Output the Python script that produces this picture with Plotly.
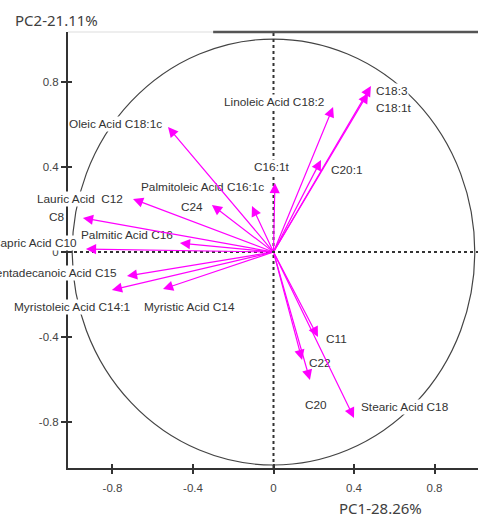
import plotly.graph_objects as go

# ---- data (loadings) ----
variables = ["Oleic Acid C18:1c", "Linoleic Acid C18:2", "C18:3", "C18:1t", "C20:1",
             "C16:1t", "Palmitoleic Acid C16:1c", "C24", "Lauric Acid\u00a0 C12", "C8",
             "Palmitic Acid C16", "Capric Acid C10", "Pentadecanoic Acid C15",
             "Myristoleic Acid C14:1", "Myristic Acid C14", "C11", "C22", "C20",
             "Stearic Acid C18"]
pc1 = [-0.524, 0.296, 0.484, 0.470, 0.236, 0.007, -0.107, -0.306, -0.698, -0.947,
       -0.465, -0.932, -0.728, -0.803, -0.549, 0.221, 0.142, 0.181, 0.400]
pc2 = [0.587, 0.681, 0.779, 0.746, 0.432, 0.324, 0.216, 0.221, 0.249, 0.160,
       0.042, 0.014, -0.113, -0.178, -0.174, -0.399, -0.507, -0.601, -0.779]

tick_vals = [-0.8, -0.4, 0, 0.4, 0.8]
tick_text = ["-0.8", "-0.4", "0", "0.4", "0.8"]
x_title = "PC1-28.26%"
y_title = "PC2-21.11%"

# ---- layout: label placement (data units) ----
label_x = [-1.021, -0.251, 0.504, 0.504, 0.281, -0.102, -0.663, -0.465, -1.180, -1.120,
           -0.961, -0.971, -0.773, -1.294, -0.648, 0.256, 0.171, 0.152, 0.430]
label_y = [0.601, 0.704, 0.756, 0.676, 0.385, 0.399, 0.305, 0.211, 0.249, 0.164,
           0.080, 0.042, -0.099, -0.258, -0.258, -0.408, -0.521, -0.718, -0.728]
label_anchor = ["left"] * 11 + ["right", "right"] + ["left"] * 6

XR = [-1.021, 1.016]
YR = [-1.014, 1.033]

def xp(v):
    return (v - XR[0]) / (XR[1] - XR[0])

def yp(v):
    return (v - YR[0]) / (YR[1] - YR[0])

MAG = "#FF00FF"
AX = "#333333"
fig = go.Figure()
fig.add_trace(go.Scatter(x=[0], y=[0], mode="markers", marker=dict(opacity=0),
                         hoverinfo="skip", showlegend=False))
fig.add_trace(go.Scatter(x=[0], y=[0], mode="markers", marker=dict(opacity=0),
                         hoverinfo="skip", showlegend=False, xaxis="x2", yaxis="y2"))

shapes = [
    dict(type="circle", xref="x", yref="y", x0=-1, x1=1, y0=-1, y1=1,
         line=dict(color="#444444", width=1.2)),
    dict(type="line", xref="x", yref="paper", x0=0, x1=0, y0=0, y1=1,
         line=dict(color=AX, width=2, dash="3px,3px")),
    dict(type="line", xref="paper", yref="y", x0=0, x1=1, y0=0, y1=0,
         line=dict(color=AX, width=2, dash="3px,3px")),
    dict(type="line", xref="paper", yref="paper", x0=0, x1=0.354, y0=1, y1=1,
         line=dict(color="#DDDDDD", width=1)),
    dict(type="line", xref="paper", yref="paper", x0=0.354, x1=1, y0=1, y1=1,
         line=dict(color="#555555", width=2.5)),
]

annotations = []
for name, lx, ly, anc in zip(variables, label_x, label_y, label_anchor):
    annotations.append(dict(xref="paper", yref="paper", x=xp(lx), y=yp(ly), text=name,
                            showarrow=False, xanchor=anc, yanchor="middle",
                            bgcolor="white", borderpad=0,
                            font=dict(family="Arial, Liberation Sans", size=11.8, color="#333333")))
for x, y in zip(pc1, pc2):
    annotations.append(dict(xref="x", yref="y", axref="x", ayref="y", x=x, y=y, ax=0, ay=0,
                            text="", showarrow=True, arrowhead=2, arrowsize=1.7,
                            arrowwidth=1.2, arrowcolor=MAG, standoff=0))
annotations.append(dict(xref="paper", yref="paper", x=-0.027, y=1.028, text=y_title,
                        showarrow=False, xanchor="center", yanchor="middle",
                        font=dict(family="Noto Sans", size=15, color="#404040")))
annotations.append(dict(xref="paper", yref="paper", x=0.763, y=-0.092, text=x_title,
                        showarrow=False, xanchor="center", yanchor="middle",
                        font=dict(family="Noto Sans", size=15, color="#404040")))

tickfont = dict(family="Arial, Liberation Sans", size=11.5, color="#444444")
fig.update_layout(
    width=478, height=518,
    margin=dict(l=68, r=0, t=32, b=50),
    paper_bgcolor="white", plot_bgcolor="white",
    showlegend=False,
    xaxis=dict(range=XR, showgrid=False, zeroline=False, showline=True, linecolor=AX,
               linewidth=2, ticks="outside", ticklen=4, tickwidth=1.5, tickcolor=AX,
               tickvals=tick_vals, ticktext=tick_text, tickfont=tickfont,
               ticklabelstandoff=4),
    yaxis=dict(range=YR, showgrid=False, zeroline=False, showline=True, linecolor=AX,
               linewidth=2, ticks="outside", ticklen=5, tickwidth=1.5, tickcolor=AX,
               tickvals=tick_vals, ticktext=tick_text, tickfont=tickfont),
    xaxis2=dict(overlaying="x", matches="x", range=XR, showgrid=False, zeroline=False,
                showline=False, ticks="inside", ticklen=4, tickwidth=1.5, tickcolor=AX,
                tickvals=tick_vals, showticklabels=False),
    yaxis2=dict(overlaying="y", matches="y", range=YR, showgrid=False, zeroline=False,
                showline=False, ticks="inside", ticklen=4, tickwidth=1.5, tickcolor=AX,
                tickvals=tick_vals, showticklabels=False),
    shapes=shapes,
    annotations=annotations,
)
fig.write_html("out.html", config={"displayModeBar": False},
               post_script="document.body.style.margin='0';document.body.style.overflow='hidden';")
